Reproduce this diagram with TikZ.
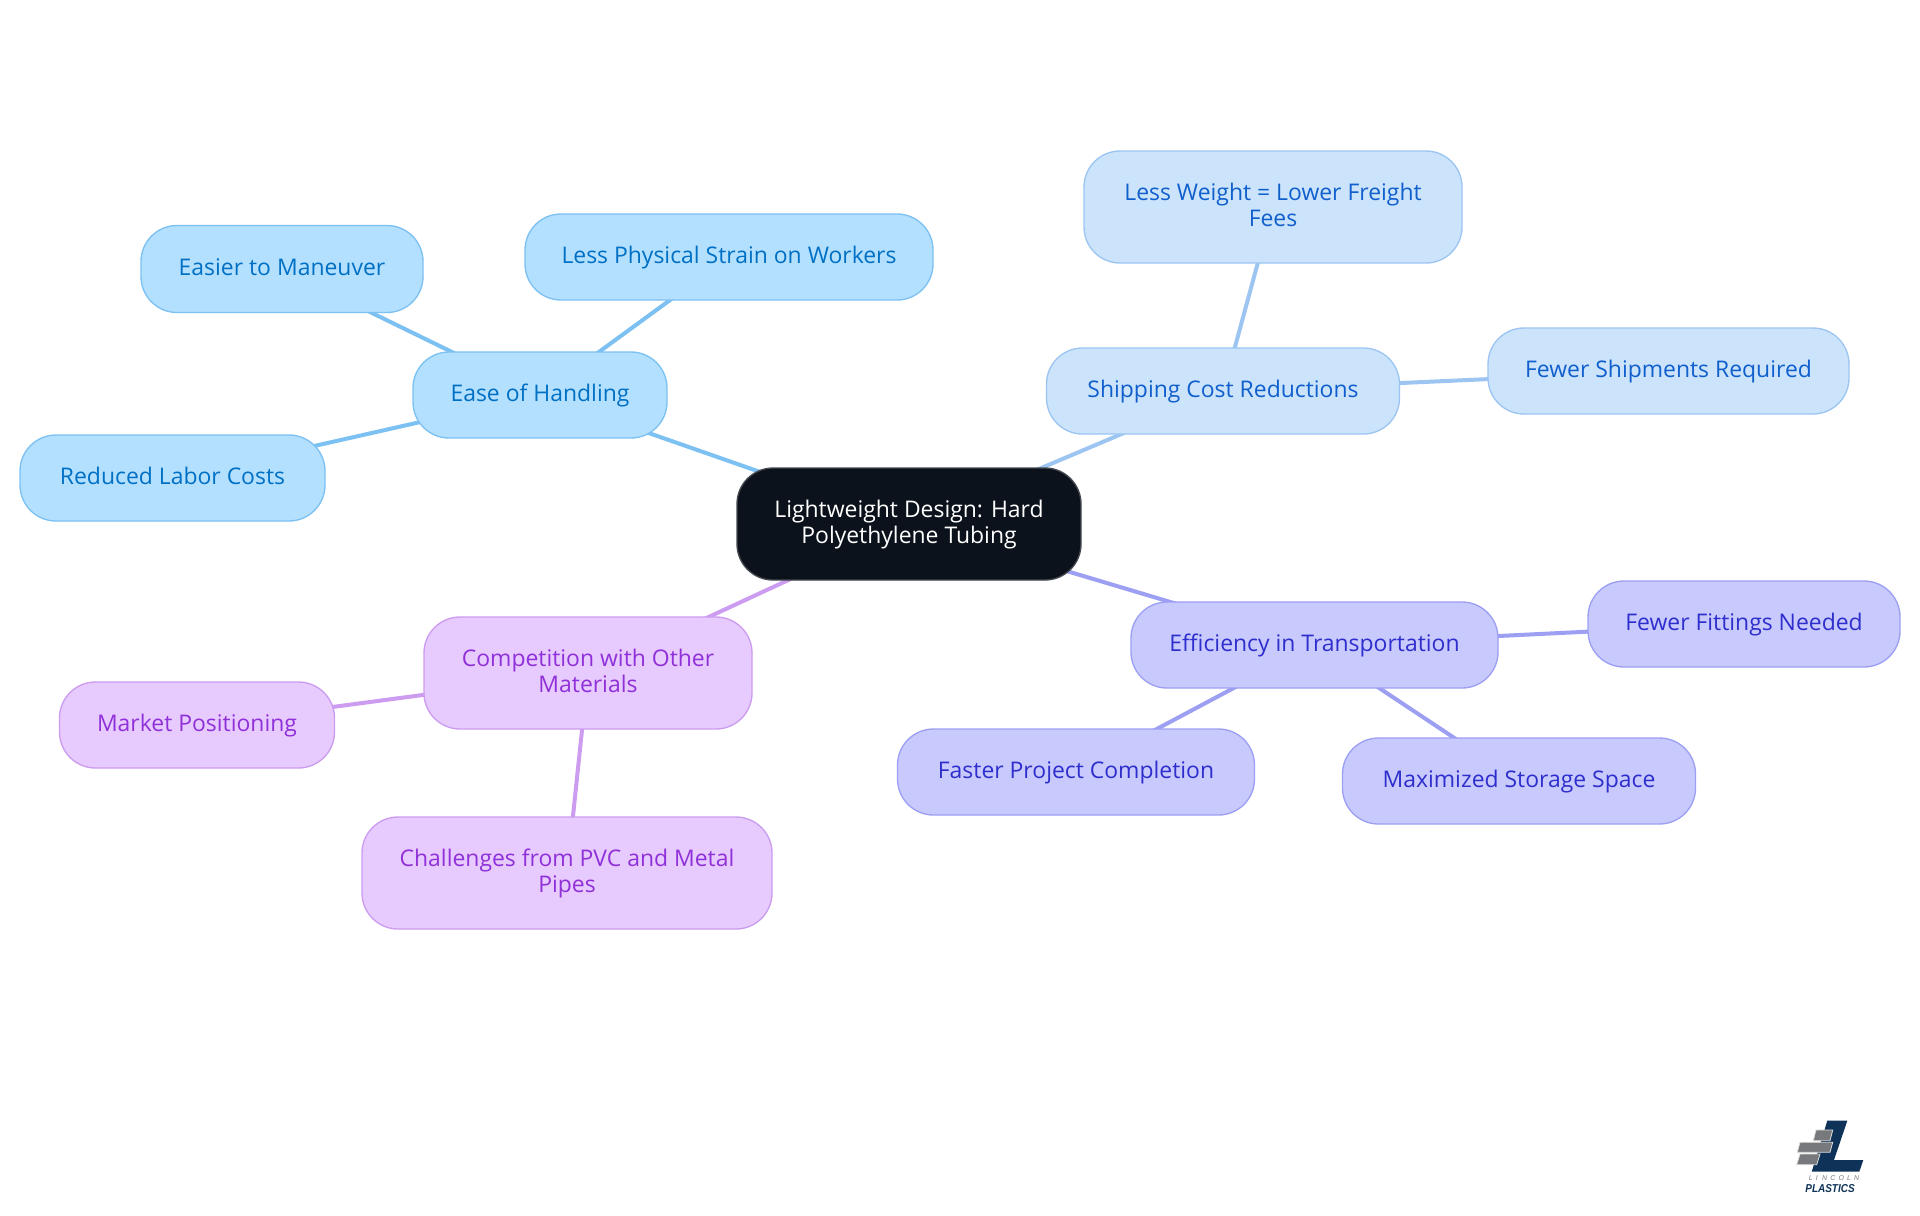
\documentclass[tikz,border=0pt]{standalone}
\usepackage{fontspec}
\usepackage{graphicx}
\setmainfont{Open Sans}
\newfontfamily\logofont{Liberation Sans}
\definecolor{rootfill}{HTML}{0B121B}
\definecolor{rootline}{HTML}{45494F}
\definecolor{afill}{HTML}{B4E0FF}\definecolor{aline}{HTML}{7CC1F2}\definecolor{atext}{HTML}{0070C4}
\definecolor{bfill}{HTML}{CCE3FC}\definecolor{bline}{HTML}{9CC5F2}\definecolor{btext}{HTML}{0F5FCC}
\definecolor{cfill}{HTML}{C8CAFE}\definecolor{cline}{HTML}{9C9FF2}\definecolor{ctext}{HTML}{2E2ECC}
\definecolor{dfill}{HTML}{E7CAFE}\definecolor{dline}{HTML}{CC9CF0}\definecolor{dtext}{HTML}{9030D8}
\definecolor{logonavy}{HTML}{0F3358}
\definecolor{logogray}{HTML}{77797C}
\newcommand{\onel}[1]{\rule{0pt}{14pt}#1\rule[-3.8pt]{0pt}{3.8pt}}
\newcommand{\twol}[2]{\rule{0pt}{14pt}#1\\#2\rule[-4.7pt]{0pt}{4.7pt}}
\pgfdeclarelayer{bg}
\pgfsetlayers{bg,main}
\tikzset{
  x=0.75pt,y=-0.75pt,
  mm/.style={rectangle,rounded corners=27pt,inner sep=0pt,line width=1pt,align=center,
    font=\fontsize{17.2}{19.5}\selectfont},
  sz/.style 2 args={minimum width=#1*0.75pt,minimum height=#2*0.75pt},
  ka/.style={mm,draw=aline,fill=afill,text=atext},
  kb/.style={mm,draw=bline,fill=bfill,text=btext},
  kc/.style={mm,draw=cline,fill=cfill,text=ctext},
  kd/.style={mm,draw=dline,fill=dfill,text=dtext},
  ea/.style={draw=aline,line width=3pt},
  eb/.style={draw=bline,line width=3pt},
  ec/.style={draw=cline,line width=3pt},
  ed/.style={draw=dline,line width=3pt},
}
\begin{document}
\begin{tikzpicture}
\useasboundingbox (0,0) rectangle (1920,1215);
\node[mm,sz={344}{112},draw=rootline,fill=rootfill,text=white] (root) at (909,524) {\twol{Lightweight Design: Hard}{Polyethylene Tubing}};
\node[ka,sz={254}{86}] (ease) at (540,395) {\onel{Ease of Handling}};
\node[ka,sz={282}{87}] (easier) at (282,269) {\onel{Easier to Maneuver}};
\node[ka,sz={305}{86}] (labor) at (172.5,478) {\onel{Reduced Labor Costs}};
\node[ka,sz={408}{86}] (strain) at (729,257) {\onel{Less Physical Strain on Workers}};
\node[kb,sz={353}{86}] (ship) at (1223,391) {\onel{Shipping Cost Reductions}};
\node[kb,sz={378}{112}] (weight) at (1273,207) {\twol{Less Weight = Lower Freight}{Fees}};
\node[kb,sz={361}{86}] (fewship) at (1668.5,371) {\onel{Fewer Shipments Required}};
\node[kc,sz={367}{86}] (eff) at (1314.5,645) {\onel{Efficiency in Transportation}};
\node[kc,sz={312}{86}] (fewfit) at (1744,624) {\onel{Fewer Fittings Needed}};
\node[kc,sz={357}{86}] (faster) at (1076,772) {\onel{Faster Project Completion}};
\node[kc,sz={353}{86}] (storage) at (1519,781) {\onel{Maximized Storage Space}};
\node[kd,sz={328}{112}] (comp) at (588,673) {\twol{Competition with Other}{Materials}};
\node[kd,sz={275}{86}] (market) at (197,725) {\onel{Market Positioning}};
\node[kd,sz={410}{112}] (chall) at (567,873) {\twol{Challenges from PVC and Metal}{Pipes}};
\begin{pgfonlayer}{bg}
\fill[white] (0,0) rectangle (1920,1215);
\draw[ea] (root.center) -- (ease.center);
\draw[ea] (ease.center) -- (easier.center);
\draw[ea] (ease.center) -- (labor.center);
\draw[ea] (ease.center) -- (strain.center);
\draw[eb] (root.center) -- (ship.center);
\draw[eb] (ship.center) -- (weight.center);
\draw[eb] (ship.center) -- (fewship.center);
\draw[ec] (root.center) -- (eff.center);
\draw[ec] (eff.center) -- (fewfit.center);
\draw[ec] (eff.center) -- (faster.center);
\draw[ec] (eff.center) -- (storage.center);
\draw[ed] (root.center) -- (comp.center);
\draw[ed] (comp.center) -- (market.center);
\draw[ed] (comp.center) -- (chall.center);
\end{pgfonlayer}
% logo
\fill[logonavy] (1827.3,1120.7) -- (1847.3,1120.7) -- (1834,1160) -- (1863.3,1160) -- (1859.3,1171.7) -- (1811.7,1171.7) -- cycle;
\draw[fill=logogray,draw=white!85!black,line width=0.6pt] (1816,1130) -- (1832.7,1130) -- (1830,1140.7) -- (1813.3,1140.7) -- cycle;
\draw[fill=logogray,draw=white!85!black,line width=0.6pt] (1800,1142.3) -- (1832.7,1142.3) -- (1830,1152.3) -- (1797.3,1152.3) -- cycle;
\draw[fill=logogray,draw=white!85!black,line width=0.6pt] (1800,1154) -- (1820,1154) -- (1816.7,1164.7) -- (1796.7,1164.7) -- cycle;
\node[inner sep=0pt,text=logogray,font=\logofont\itshape\fontsize{5.2}{6}\selectfont] (lincoln) at (1834,1178.5) {L\hspace{2.4pt}I\hspace{3.2pt}N\hspace{2.4pt}C\hspace{2.4pt}O\hspace{2.4pt}L\hspace{2.4pt}N};
\node[inner sep=0pt,text=logonavy,font=\logofont\bfseries\itshape\fontsize{8.6}{10}\selectfont] (plastics) at (1830,1188.5) {\scalebox{0.87}[1]{PLASTICS}};
\end{tikzpicture}
\end{document}
